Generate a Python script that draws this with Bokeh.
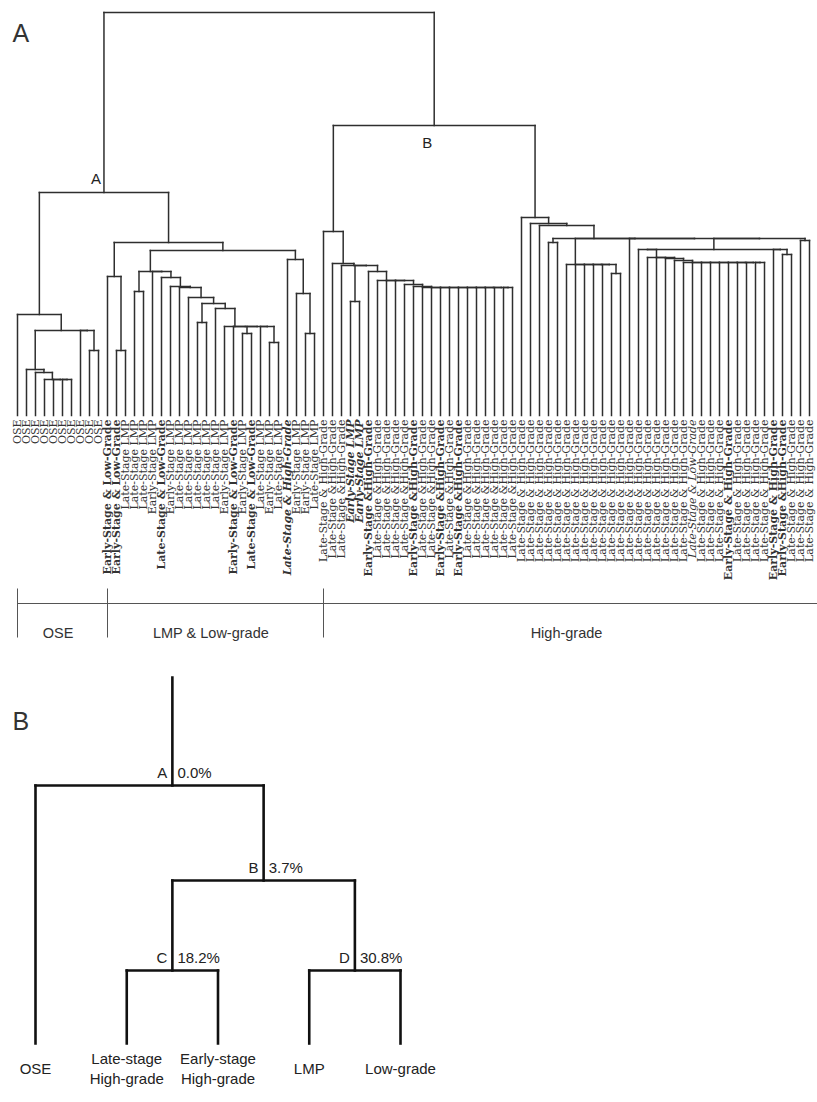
import math
from bokeh.plotting import figure
from bokeh.models import ColumnDataSource, Range1d
from bokeh.layouts import column
from bokeh.core.properties import value, field
from bokeh.embed import file_html
from bokeh.resources import INLINE

# ---------------- data: panel A (leaf labels, read left to right) ----------------
LSHG = "Late-Stage & High-Grade"
LSHG2 = "Late-Stage &High-Grade"
leaf_labels = (
    ["OSE"] * 10
    + ["Early-Stage & Low-Grade", "Early-Stage & Low-Grade",
       "Late-Stage LMP", "Late-Stage LMP", "Late-Stage LMP", "Early-Stage LMP",
       "Late-Stage & Low-Grade", "Early-Stage LMP",
       "Late-Stage LMP", "Late-Stage LMP", "Late-Stage LMP", "Late-Stage LMP", "Late-Stage LMP",
       "Early-Stage LMP", "Early-Stage & Low-Grade", "Early-Stage LMP", "Late-Stage & Low-Grade",
       "Late-Stage LMP", "Early-Stage LMP", "Late-Stage LMP", "Late-Stage & High-Grade",
       "Early-Stage LMP", "Early-Stage LMP", "Late-Stage LMP"]
    + [LSHG, LSHG2, LSHG2, "Early-Stage LMP", "Early-Stage LMP", "Early-Stage &High-Grade"]
    + [LSHG2] * 4 + ["Early-Stage &High-Grade"] + [LSHG2] * 2 + ["Early-Stage &High-Grade"]
    + [LSHG2] + ["Early-Stage &High-Grade"] + [LSHG2] * 6
    + [LSHG] * 19 + ["Late-Stage & Low-Grade"] + [LSHG] * 3 + ["Early-Stage & High-Grade"]
    + [LSHG] * 4 + ["Early-Stage & High-Grade", "Early-Stage &High-Grade"] + [LSHG] * 3
)
bold_leaves = [10, 11, 16, 24, 26, 39, 44, 47, 49, 79, 84, 85]
bold_italic_leaves = [30, 37, 38]
italic_leaves = [75]

# tree nodes: [merge height, child, child, ...]; ints are leaf indices
ose_tree = [101, 0, [85, [46, 1, [43, 2, [36, 3, 4, 5, 6]]], 7, [65, 8, 9]]]
lmp_tree = [173,
            [139, 10, [65, 11, 12]],
            [165,
             [144, [124, 13, 14], 15,
              [138, 16, [129, 17, [128, 18, [118, 19,
                                            [112, [93, 20, 21],
                                             [107, 22, [89, 23, 24, [82, 25, 26], 27, [73, 28, 29]]]]]]]]],
             [156, 30, [122, 31, [82, 32, 33]]]]]
hg_left_tree = [184, 34, [152, 35, [150, 36, [114, 37, 38],
                                    [144, 39, [135, 40, 41, 42, [131, 43, [129, 44,
                                                                         [128, 45, 46, 47, 48, 49, 50, 51, 52, 53, 54, 55]]]]]]]]
hg_right_tree = [198, 56, [192, 57, [190, 58,
                                     [177, [173, 59, 60],
                                      [151, 61, 62, 63, 64, 65, [142, 66, 67]],
                                      68,
                                      [166, [166, 69, [158, 70, [158, 71, [157, 72, [155, 73,
                                                                                  [153, 74, 75, 76, 77, 78, 79, 80, 81, 82, 83]]]]]],
                                       [166, 84, [161, 85, 86]]],
                                      [175, 87, 88]]]]]
cluster_a = [223, ose_tree, lmp_tree]
cluster_b = [290, hg_left_tree, hg_right_tree]
root_tree = [403, cluster_a, cluster_b]

group_names = ["OSE", "LMP & Low-grade", "High-grade"]
group_first_leaf = [0, 10, 34]
group_last_leaf = [9, 33, 88]

# ---------------- data: panel B ----------------
pb_leaf_labels = ["OSE", "Late-stage\nHigh-grade", "Early-stage\nHigh-grade", "LMP", "Low-grade"]
pb_node_names = ["A", "B", "C", "D"]
pb_node_support = [0.0, 3.7, 18.2, 30.8]
pb_node_heights = [258, 163, 73, 73]
pb_node_children = [(0, "B"), ("C", "D"), (1, 2), (3, 4)]
pb_stem_top = 366
pb_stem_at = 1.5

# ---------------- layout helpers ----------------
W = 817
HA, HB = 668, 434
LINE = "#2e2e2e"

segs = dict(x0=[], y0=[], x1=[], y1=[])
node_xy = {}


def place(node):
    if isinstance(node, int):
        return float(node), 0.0
    h = node[0]
    kids = list(node[1:])
    if len(kids) > 2:
        kids = [kids[0], [h] + kids[1:]]
    xa, ha = place(kids[0])
    xb, hb = place(kids[1])
    for (xs, ys, xe, ye) in ((xa, ha, xa, h), (xb, hb, xb, h), (xa, h, xb, h)):
        segs["x0"].append(xs); segs["y0"].append(ys)
        segs["x1"].append(xe); segs["y1"].append(ye)
    xm = (xa + xb) / 2
    node_xy[id(node)] = (xm, h)
    return xm, h


place(root_tree)
n_leaves = len(leaf_labels)
assert n_leaves == 89

leaf_px = 9.0
xa0 = -17 / leaf_px
xa1 = xa0 + W / leaf_px
pA = figure(width=W, height=HA, x_range=Range1d(xa0, xa1), y_range=Range1d(-253, 415),
            output_backend="svg", toolbar_location=None, min_border=0,
            x_axis_location=None, y_axis_location=None, outline_line_color=None)
pA.grid.visible = False
pA.segment(x0="x0", y0="y0", x1="x1", y1="y1", source=ColumnDataSource(segs),
           line_color=LINE, line_width=1.5, line_cap="square")

styles = []
for i in range(n_leaves):
    if i in bold_leaves:
        styles.append("bold")
    elif i in bold_italic_leaves:
        styles.append("bold italic")
    elif i in italic_leaves:
        styles.append("italic")
    else:
        styles.append("normal")
leaf_src = ColumnDataSource(dict(x=list(range(n_leaves)), y=[0] * n_leaves, text=leaf_labels, style=styles))
pA.text(x="x", y="y", text="text", source=leaf_src, angle=math.pi / 2, text_align="right",
        text_baseline="middle", y_offset=4, text_font=value("DejaVu Serif"), text_font_size="11px",
        text_font_style=field("style"), text_color="#333333")

# node letters
ax, ah = node_xy[id(cluster_a)]
bx, bh = node_xy[id(cluster_b)]
pA.text(x=[ax], y=[ah], text=["A"], text_align="right", text_baseline="alphabetic",
        x_offset=-3, y_offset=-14, text_font=value("Liberation Sans"), text_font_size="15px",
        text_color="#222222")
pA.text(x=[bx], y=[bh], text=["B"], text_align="right", text_baseline="alphabetic",
        x_offset=-2, y_offset=17, text_font=value("Liberation Sans"), text_font_size="15px",
        text_color="#222222")

# group bracket
pA.segment(x0=[float(group_first_leaf[0])], y0=[-188], x1=[xa1], y1=[-188], line_color="#555555", line_width=1)
pA.segment(x0=group_first_leaf, y0=[-173] * 3, x1=group_first_leaf, y1=[-222] * 3,
           line_color="#555555", line_width=1)
pA.text(x=[(a + b) / 2 for a, b in zip(group_first_leaf, group_last_leaf)], y=[-217] * 3, text=group_names,
        text_align="center", text_baseline="middle", text_font=value("Liberation Sans"),
        text_font_size="14.5px", text_color="#333333")

# panel letter A
pA.text(x=[xa0 + 12 / leaf_px], y=[415 - 32], text=["A"], text_align="left", text_baseline="alphabetic",
        text_font=value("Liberation Sans"), text_font_size="25px", text_color="#333333")

# ---------------- panel B ----------------
pb_pos = {}
pb_segs = []


def pb_place(key):
    if isinstance(key, int):
        return float(key), 0.0
    idx = pb_node_names.index(key)
    a, b = pb_node_children[idx]
    xa_, ha_ = pb_place(a)
    xb_, hb_ = pb_place(b)
    h = pb_node_heights[idx]
    pb_segs.append((xa_, ha_, xa_, h))
    pb_segs.append((xb_, hb_, xb_, h))
    pb_segs.append((xa_, h, xb_, h))
    xm = (xa_ + xb_) / 2
    pb_pos[key] = (xm, h)
    return xm, h


pb_place("A")
pb_pos["A"] = (pb_stem_at, pb_pos["A"][1])
pb_segs.append((pb_stem_at, pb_pos["A"][1], pb_stem_at, pb_stem_top))

pb_px = 91.25
xb0 = -35 / pb_px
xb1 = xb0 + W / pb_px
pB = figure(width=W, height=HB, x_range=Range1d(xb0, xb1), y_range=Range1d(-59, 375),
            output_backend="svg", toolbar_location=None, min_border=0,
            x_axis_location=None, y_axis_location=None, outline_line_color=None)
pB.grid.visible = False
pB.segment(x0=[s[0] for s in pb_segs], y0=[s[1] for s in pb_segs],
           x1=[s[2] for s in pb_segs], y1=[s[3] for s in pb_segs],
           line_color="#111111", line_width=2.6, line_cap="square")

nx = [pb_pos[n][0] for n in pb_node_names]
nh = [pb_pos[n][1] for n in pb_node_names]
pB.text(x=nx, y=nh, text=pb_node_names, text_align="right", text_baseline="alphabetic",
        x_offset=-5, y_offset=-13, text_font=value("Liberation Sans"), text_font_size="15px",
        text_color="#222222")
pB.text(x=nx, y=nh, text=[f"{v:.1f}%" for v in pb_node_support], text_align="left",
        text_baseline="alphabetic", x_offset=5, y_offset=-13, text_font=value("Liberation Sans"),
        text_font_size="15px", text_color="#222222")
pB.text(x=list(range(len(pb_leaf_labels))), y=[0] * len(pb_leaf_labels), text=pb_leaf_labels,
        text_align="center", text_baseline="middle", y_offset=25, text_font=value("Liberation Sans"),
        text_font_size="15px", text_color="#222222", text_line_height=1.2)
pB.text(x=[xb0 + 12 / pb_px], y=[375 - (720 - 668)], text=["B"], text_align="left",
        text_baseline="alphabetic", text_font=value("Liberation Sans"), text_font_size="25px",
        text_color="#333333")

layout = column(pA, pB, spacing=0)
open("out.html", "w").write(file_html(layout, INLINE))
